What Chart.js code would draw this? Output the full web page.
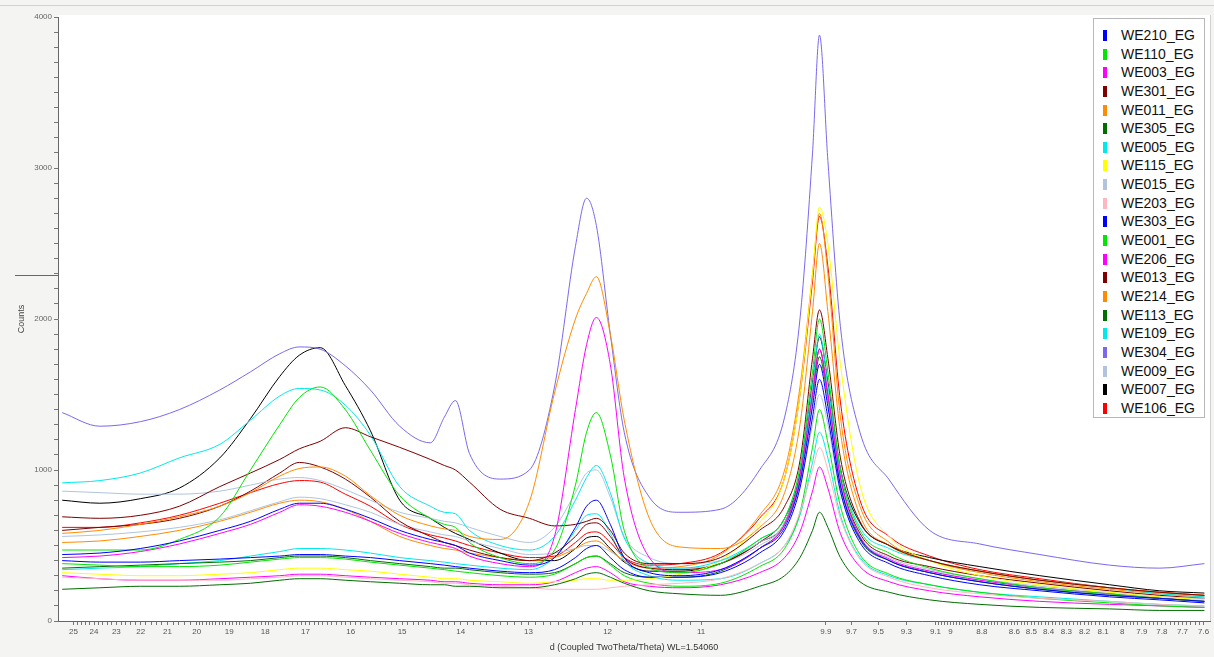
<!DOCTYPE html>
<html>
<head>
<meta charset="utf-8">
<script src="https://cdn.jsdelivr.net/npm/chart.js@4.4.1/dist/chart.umd.min.js"></script>
<style>
  body { margin: 0; background: #f4f4f2; }
  #wrap { position: relative; width: 1214px; height: 657px; overflow: hidden; }
  #topline { position: absolute; left: 0; top: 5px; width: 1214px; height: 1px; background: #c9d3df; }
  #splitter { position: absolute; left: 15px; top: 275px; width: 43px; height: 1px; background: #3f6db0; }
  #legend { position: absolute; left: 1093px; top: 18px; width: 110px; height: 391px; padding-top: 7px;
            background: #fff; border: 1px solid #b8b8b8; font: 14px "Liberation Sans", Arial, sans-serif; color: #111; }
  .row { height: 18.65px; line-height: 18.65px; white-space: nowrap; }
  .sw { display: inline-block; width: 4px; height: 11px; margin-left: 9px; margin-right: 14px; vertical-align: -1px; }
</style>
</head>
<body>
<div id="wrap">
  <canvas id="xrd" width="1214" height="657"></canvas>
  <div id="topline"></div>
  <div id="splitter"></div>
  <div id="legend"></div>
</div>
<script>
const twoTheta = [3.45, 3.72, 4.01, 4.29, 4.58, 4.80, 5.01, 5.15, 5.30, 5.48,
  5.66, 5.87, 6.09, 6.19, 6.27, 6.37, 6.59, 6.80, 6.98, 7.13,
  7.21, 7.28, 7.38, 7.48, 7.66, 7.88, 8.17, 8.45, 8.63, 8.74,
  8.83, 8.88, 8.94, 9.03, 9.17, 9.38, 9.67, 10.03, 10.46, 10.96,
  11.32, 11.64];

const names = ['WE210_EG', 'WE110_EG', 'WE003_EG', 'WE301_EG', 'WE011_EG', 'WE305_EG', 'WE005_EG',
  'WE115_EG', 'WE015_EG', 'WE203_EG', 'WE303_EG', 'WE001_EG', 'WE206_EG', 'WE013_EG', 'WE214_EG',
  'WE113_EG', 'WE109_EG', 'WE304_EG', 'WE009_EG', 'WE007_EG', 'WE106_EG'];

const colors = ['#0000ff', '#00e600', '#ff00ff', '#800000', '#ff8c00', '#006e00', '#00eaea',
  '#ffff00', '#b0c4de', '#ffb6c1', '#0000ff', '#00e600', '#ff00ff', '#800000', '#ff8c00',
  '#006e00', '#00eaea', '#7b68ee', '#b0c4de', '#000000', '#ff0000'];

const we210 = [440, 450, 480, 530, 600, 660, 740, 780, 780, 740, 680, 600, 540, 520, 500, 450, 400, 370, 420, 620,
  760, 800, 640, 420, 320, 300, 340, 480, 620, 920, 1420, 1700, 1420, 900, 550, 400, 320, 260, 210, 170, 150, 130];
const we110 = [470, 470, 470, 540, 690, 1000, 1300, 1480, 1550, 1400, 1130, 830, 680, 640, 620, 520, 420, 380, 470, 900,
  1250, 1380, 1100, 600, 350, 320, 380, 540, 680, 1020, 1650, 2000, 1650, 1000, 600, 450, 350, 280, 220, 180, 150, 130];
const we003 = [420, 430, 460, 510, 580, 640, 720, 770, 760, 720, 660, 580, 520, 500, 480, 430, 380, 360, 560, 1400,
  1830, 2010, 1700, 950, 420, 320, 340, 480, 640, 960, 1500, 1800, 1500, 950, 560, 410, 330, 270, 220, 180, 150, 130];
const we301 = [690, 680, 700, 760, 890, 980, 1070, 1140, 1190, 1280, 1220, 1150, 1070, 1030, 1000, 920, 740, 680, 630, 640,
  660, 680, 600, 450, 380, 380, 420, 600, 760, 1060, 1740, 2060, 1740, 1080, 660, 500, 400, 330, 270, 220, 190, 170];
const we011 = [580, 600, 640, 690, 760, 850, 960, 1010, 1020, 960, 830, 700, 630, 610, 600, 560, 540, 790, 1510, 2000,
  2170, 2280, 1900, 1330, 680, 490, 480, 620, 850, 1300, 2050, 2500, 2050, 1250, 700, 500, 400, 330, 270, 220, 190, 170];
const we305 = [210, 220, 230, 230, 240, 250, 270, 280, 280, 270, 260, 250, 240, 240, 230, 230, 220, 220, 240, 280,
  310, 320, 290, 250, 200, 180, 170, 230, 300, 420, 600, 720, 620, 420, 260, 190, 140, 110, 90, 80, 70, 70];
const we005 = [915, 930, 980, 1080, 1170, 1330, 1490, 1540, 1530, 1430, 1230, 890, 760, 720, 710, 600, 500, 470, 560, 800,
  950, 1030, 850, 550, 380, 350, 400, 540, 680, 1000, 1560, 1900, 1560, 1000, 620, 480, 400, 330, 270, 220, 180, 160];
const we115 = [320, 310, 300, 300, 310, 320, 340, 350, 350, 340, 330, 310, 290, 280, 280, 270, 260, 250, 260, 270,
  280, 280, 270, 270, 280, 310, 400, 650, 950, 1500, 2300, 2740, 2500, 1700, 900, 560, 400, 300, 240, 190, 160, 140];
const we015 = [860, 850, 840, 840, 860, 900, 940, 950, 930, 870, 800, 720, 680, 660, 650, 620, 560, 520, 620, 850,
  980, 1000, 820, 560, 420, 380, 400, 520, 650, 950, 1450, 1700, 1450, 920, 560, 420, 340, 280, 230, 190, 160, 150];
const we203 = [290, 280, 270, 270, 270, 280, 290, 300, 300, 290, 280, 270, 260, 250, 250, 240, 230, 220, 210, 210,
  210, 210, 220, 230, 240, 250, 280, 380, 500, 720, 1000, 1150, 1000, 680, 410, 290, 220, 180, 150, 130, 110, 100];
const we303 = [400, 390, 390, 400, 410, 420, 430, 440, 440, 430, 420, 400, 380, 370, 360, 350, 330, 320, 340, 420,
  480, 500, 420, 340, 290, 290, 320, 450, 600, 880, 1350, 1600, 1350, 860, 520, 380, 300, 240, 200, 160, 140, 120];
const we001 = [380, 370, 360, 360, 370, 390, 410, 420, 420, 410, 390, 370, 350, 340, 330, 320, 300, 290, 310, 380,
  420, 430, 370, 300, 250, 230, 250, 360, 480, 720, 1150, 1400, 1180, 760, 440, 310, 240, 190, 150, 120, 100, 90];
const we206 = [300, 280, 270, 270, 280, 290, 300, 310, 310, 300, 290, 280, 270, 260, 260, 250, 240, 240, 260, 320,
  350, 360, 320, 260, 230, 220, 240, 320, 420, 590, 860, 1020, 880, 580, 360, 260, 200, 160, 130, 110, 100, 90];
const we013 = [600, 620, 640, 680, 760, 860, 980, 1050, 1020, 940, 820, 660, 560, 520, 500, 470, 420, 400, 450, 560,
  640, 650, 560, 420, 350, 340, 380, 520, 680, 960, 1500, 1800, 1500, 950, 580, 430, 360, 300, 250, 200, 170, 150];
const we214 = [520, 530, 560, 600, 660, 720, 780, 800, 790, 740, 660, 560, 500, 480, 470, 450, 420, 400, 420, 480,
  520, 530, 470, 400, 350, 360, 440, 700, 1000, 1550, 2300, 2700, 2300, 1350, 760, 520, 400, 320, 260, 210, 180, 160];
const we113 = [350, 360, 370, 380, 390, 400, 420, 430, 430, 420, 400, 380, 360, 350, 350, 340, 320, 310, 320, 380,
  420, 430, 380, 320, 290, 290, 330, 480, 640, 940, 1450, 1750, 1450, 900, 540, 400, 320, 260, 210, 170, 150, 130];
const we109 = [340, 350, 360, 380, 400, 430, 460, 480, 480, 470, 450, 420, 400, 390, 380, 370, 350, 340, 420, 600,
  700, 710, 580, 400, 300, 270, 280, 380, 500, 700, 1050, 1250, 1080, 700, 420, 300, 240, 190, 160, 130, 110, 100];
const we304 = [1380, 1290, 1320, 1400, 1530, 1650, 1770, 1815, 1800, 1690, 1530, 1290, 1180, 1350, 1460, 1110, 940, 1000, 1550, 2480,
  2800, 2620, 1900, 1250, 820, 720, 740, 1000, 1350, 2000, 3100, 3880, 3050, 1950, 1250, 935, 600, 510, 440, 370, 350, 380];
const we009 = [560, 570, 590, 620, 670, 730, 790, 820, 810, 770, 720, 640, 590, 570, 560, 530, 480, 440, 450, 480,
  500, 500, 460, 400, 360, 350, 380, 500, 640, 900, 1300, 1500, 1300, 850, 540, 400, 330, 270, 220, 180, 150, 140];
const we007 = [800, 780, 810, 880, 1080, 1340, 1620, 1760, 1810, 1560, 1260, 800, 680, 620, 580, 540, 450, 400, 400, 480,
  550, 560, 480, 390, 330, 330, 380, 520, 650, 980, 1580, 1880, 1580, 1010, 650, 500, 420, 360, 300, 240, 200, 185];
const we106 = [620, 620, 650, 700, 780, 850, 910, 930, 920, 840, 760, 640, 570, 550, 530, 500, 450, 420, 430, 520,
  580, 590, 520, 420, 370, 380, 450, 680, 950, 1500, 2250, 2680, 2350, 1450, 800, 560, 430, 340, 280, 220, 190, 170];

const counts = [we210, we110, we003, we301, we011, we305, we005, we115, we015, we203, we303,
  we001, we206, we013, we214, we113, we109, we304, we009, we007, we106];

// d-spacing labels on the bottom axis
const dLabels = [25, 24, 23, 22, 21, 20, 19, 18, 17, 16, 15, 14, 13, 12, 11,
  9.9, 9.7, 9.5, 9.3, 9.1, 9, 8.8, 8.6, 8.5, 8.4, 8.3, 8.2, 8.1, 8, 7.9, 7.8, 7.7, 7.6];

const WL = 1.5406;
function toTwoTheta(d) { return 2 * Math.asin(WL / (2 * d)) * 180 / Math.PI; }

const minorD = [];
for (let k = 250; k > 200; k -= 2) minorD.push(k / 10);
for (let k = 200; k >= 110; k--) minorD.push(k / 10);
for (let k = 910; k >= 760; k -= 2) minorD.push(k / 100);

const xTicks = [];
dLabels.forEach(d => xTicks.push({ value: toTwoTheta(d), lbl: String(d) }));
minorD.forEach(d => {
  if (!dLabels.some(m => Math.abs(m - d) < 1e-6)) xTicks.push({ value: toTwoTheta(d), lbl: '' });
});
xTicks.sort((a, b) => a.value - b.value);

const yTicks = [];
for (let v = 0; v <= 4000; v += 100) yTicks.push(v);

const font = 'Liberation Sans';

const plotBg = {
  id: 'plotBg',
  beforeDraw(chart) {
    const { ctx, chartArea: a } = chart;
    ctx.save();
    ctx.fillStyle = '#ffffff';
    ctx.fillRect(a.left, a.top - 2, a.right - a.left, a.bottom - a.top + 2);
    ctx.strokeStyle = '#d0d0d0';
    ctx.beginPath();
    ctx.moveTo(a.right + 0.5, a.top - 2);
    ctx.lineTo(a.right + 0.5, a.bottom);
    ctx.stroke();
    ctx.restore();
  }
};

const chart = new Chart(document.getElementById('xrd'), {
  type: 'line',
  data: {
    datasets: counts.map((arr, i) => ({
      label: names[i],
      data: arr.map((c, j) => ({ x: twoTheta[j], y: c })),
      borderColor: colors[i],
      backgroundColor: colors[i],
      borderWidth: 1,
      pointRadius: 0,
      cubicInterpolationMode: 'monotone',
      fill: false
    }))
  },
  options: {
    responsive: false,
    devicePixelRatio: 1,
    animation: false,
    layout: { padding: { left: 0, top: 17, right: 4, bottom: 0 } },
    plugins: { legend: { display: false }, tooltip: { enabled: false } },
    scales: {
      x: {
        type: 'linear',
        min: 3.42,
        max: 11.68,
        afterBuildTicks: s => { s.ticks = xTicks.map(t => ({ value: t.value, lbl: t.lbl })); },
        afterFit: s => { s.height = 36; },
        ticks: {
          autoSkip: false, maxRotation: 0, padding: 2,
          color: '#555', font: { family: font, size: 8 },
          callback: (v, i, ticks) => ticks[i].lbl
        },
        grid: { drawOnChartArea: false, tickLength: 4, color: '#777' },
        border: { color: '#666' },
        title: {
          display: true, text: 'd (Coupled TwoTheta/Theta) WL=1.54060',
          color: '#333', font: { family: font, size: 9 }, padding: { top: 0, bottom: 4 }
        }
      },
      y: {
        min: 0,
        max: 4000,
        afterBuildTicks: s => { s.ticks = yTicks.map(v => ({ value: v })); },
        afterFit: s => { s.width = 58; },
        ticks: {
          autoSkip: false, padding: 2,
          color: '#666', font: { family: font, size: 8 },
          callback: v => (v % 1000 === 0 ? String(v) : '')
        },
        grid: { drawOnChartArea: false, tickLength: 4, color: '#777' },
        border: { color: '#666' },
        title: {
          display: true, text: 'Counts',
          color: '#444', font: { family: font, size: 9 }, padding: { top: 16, bottom: 0 }
        }
      }
    }
  },
  plugins: [plotBg]
});

// legend box built from the datasets
const legend = document.getElementById('legend');
chart.data.datasets.forEach(ds => {
  const row = document.createElement('div');
  row.className = 'row';
  const sw = document.createElement('span');
  sw.className = 'sw';
  sw.style.background = ds.borderColor;
  row.appendChild(sw);
  row.appendChild(document.createTextNode(ds.label));
  legend.appendChild(row);
});
</script>
</body>
</html>
